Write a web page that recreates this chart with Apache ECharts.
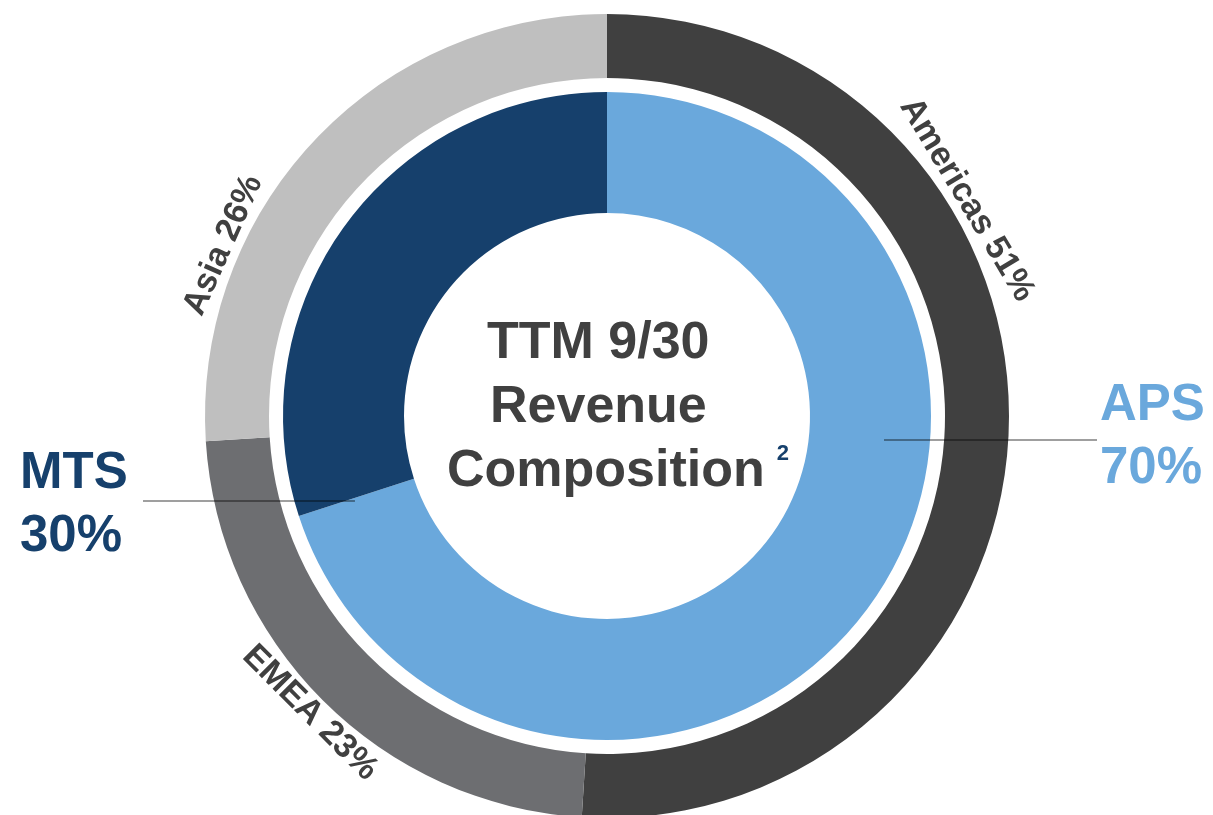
<!DOCTYPE html>
<html>
<head>
<meta charset="utf-8">
<script src="https://cdn.jsdelivr.net/npm/echarts@6/dist/echarts.min.js"></script>
<style>
  html, body { margin: 0; padding: 0; background: #fff; }
  #main { width: 1213px; height: 815px; }
</style>
</head>
<body>
<div id="main"></div>
<script>
// data
const regions = ['Americas', 'EMEA', 'Asia']
const regionShare = [51, 23, 26]
const segments = ['APS', 'MTS']
const segmentShare = [70, 30]
const centerLines = ['TTM 9/30', 'Revenue', 'Composition']
const footnote = '2'

const CX = 607
const CY = 416
const font = 'Liberation Sans, Arial, sans-serif'
const gray = '#404040'
const navy = '#16406c'
const blue = '#6aa8dc'

// where the ring labels sit (degrees clockwise from 12 o'clock), null = middle of slice
const ringLabelDeg = { Americas: 59, EMEA: null, Asia: 294 }

function midDeg(values, i) {
  const total = values.reduce((a, b) => a + b, 0)
  let before = 0
  for (let k = 0; k < i; k++) before += values[k]
  return (before + values[i] / 2) / total * 360
}

// leader lines of the segment labels: horizontal, starting inside the inner ring
function leader(y, r, side, end) {
  const dy = y - CY
  const x0 = CX + side * Math.sqrt(r * r - dy * dy)
  return {
    type: 'line',
    z: 100,
    shape: { x1: x0, y1: y, x2: end, y2: y },
    style: { stroke: 'rgba(0,0,0,0.5)', lineWidth: 1.5 }
  }
}

const chart = echarts.init(document.getElementById('main'))

chart.setOption({
  backgroundColor: '#fff',
  animation: false,
  title: [
    { text: centerLines[0], left: 487, top: 312 },
    { text: centerLines[1], left: 490, top: 376 },
    { text: centerLines[2] + '{s|' + footnote + '}', left: 447, top: 440 }
  ].map(t => ({
    text: t.text,
    left: t.left,
    top: t.top,
    padding: 0,
    textStyle: {
      fontFamily: font, fontSize: 52, fontWeight: 'bold', color: gray, lineHeight: 64,
      rich: {
        s: { fontFamily: font, fontSize: 22, color: navy, lineHeight: 64, padding: [0, 0, 36, 12] }
      }
    }
  })),
  graphic: [
    leader(440, 278, 1, 1097),
    leader(501, 266, -1, 143)
  ],
  series: [
    {
      name: 'Region',
      type: 'pie',
      center: [CX, CY],
      radius: [338, 402],
      startAngle: 90,
      clockwise: true,
      silent: true,
      color: [gray, '#6d6e71', '#bfbfbf'],
      itemStyle: { borderWidth: 0 },
      label: {
        show: true,
        position: 'inside',
        formatter: p => p.name + ' ' + p.value + '%',
        fontFamily: font,
        fontSize: 34,
        fontWeight: 'bold',
        color: gray
      },
      labelLine: { show: false },
      labelLayout: function (p) {
        const name = regions[p.dataIndex]
        let deg = ringLabelDeg[name]
        if (deg == null) deg = midDeg(regionShare, p.dataIndex)
        const rad = deg * Math.PI / 180
        const r = 420
        let rot = -deg
        if (deg > 90 && deg < 270) rot += 180
        return {
          x: CX + r * Math.sin(rad),
          y: CY - r * Math.cos(rad),
          rotate: rot,
          align: 'center',
          verticalAlign: 'middle'
        }
      },
      data: regions.map((n, i) => ({ name: n, value: regionShare[i] }))
    },
    {
      name: 'Segment',
      type: 'pie',
      center: [CX, CY],
      radius: [203, 324],
      startAngle: 90,
      clockwise: true,
      silent: true,
      color: [blue, navy],
      itemStyle: { borderWidth: 0 },
      label: {
        show: true,
        position: 'inside',
        formatter: p => p.name + '\n' + p.value + '%',
        fontFamily: font,
        fontSize: 51,
        fontWeight: 'bold',
        lineHeight: 63
      },
      labelLine: { show: false },
      labelLayout: function (p) {
        const right = p.dataIndex === 0
        return {
          x: right ? 1100 : 20,
          y: right ? 437 : 505,
          align: 'left',
          verticalAlign: 'middle'
        }
      },
      data: segments.map((n, i) => ({
        name: n,
        value: segmentShare[i],
        label: { color: i === 0 ? blue : navy }
      }))
    }
  ]
})
</script>
</body>
</html>
